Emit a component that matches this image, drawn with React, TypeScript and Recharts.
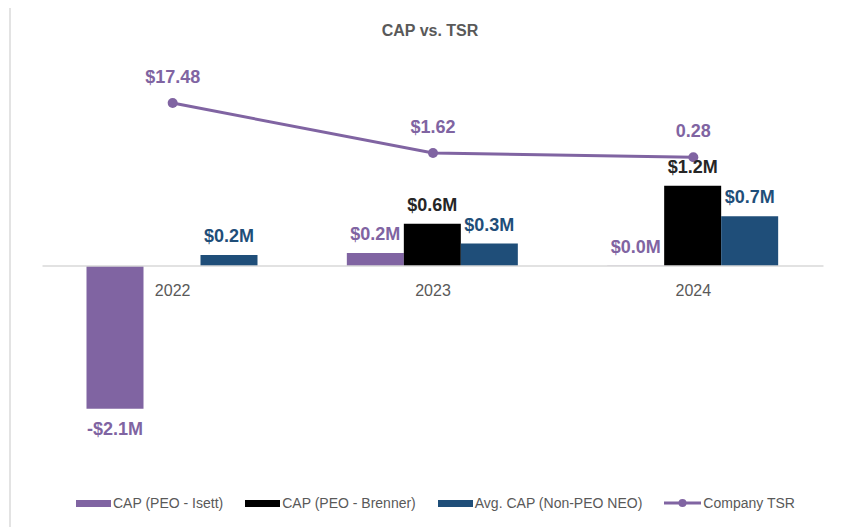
import React from "react";
import {
  ComposedChart,
  Bar,
  Line,
  XAxis,
  YAxis,
  Legend,
  LabelList,
  ReferenceLine,
} from "recharts";

const years = ["2022", "2023", "2024"];
const capIsett = [-2.1, 0.19, 0.004];
const capBrenner = [null, 0.62, 1.18];
const avgCapNonPeo = [0.16, 0.33, 0.73];
const companyTsr = [17.48, 1.62, 0.28];
const tsrLabels = ["$17.48", "$1.62", "0.28"];

const PURPLE = "#8064A2";
const BLACK = "#000000";
const BLUE = "#1F4E79";
const FONT = "'Liberation Sans', Arial, sans-serif";

const data = years.map((year, i) => ({
  year,
  isett: capIsett[i],
  brenner: capBrenner[i],
  nonPeo: avgCapNonPeo[i],
  tsr: companyTsr[i],
  tsrLabel: tsrLabels[i],
  zero: 0,
}));

const money = (v: any) => {
  if (v === null || v === undefined) return "";
  const n = Number(v);
  return (n < 0 ? "-$" : "$") + Math.abs(n).toFixed(1) + "M";
};

const legendItems = [
  { name: "CAP (PEO - Isett)", color: PURPLE, type: "rect" },
  { name: "CAP (PEO - Brenner)", color: BLACK, type: "rect" },
  { name: "Avg. CAP (Non-PEO NEO)", color: BLUE, type: "rect" },
  { name: "Company TSR", color: PURPLE, type: "line" },
];

const LegendContent = () => (
  <div
    style={{
      display: "flex",
      alignItems: "center",
      height: 20,
      paddingLeft: 65,
      fontFamily: FONT,
      fontSize: 14,
      color: "#595959",
      whiteSpace: "nowrap",
    }}
  >
    {legendItems.map((it) => (
      <div key={it.name} style={{ display: "flex", alignItems: "center", marginRight: 22 }}>
        {it.type === "rect" ? (
          <div style={{ width: 35, height: 7, background: it.color, marginRight: 2 }} />
        ) : (
          <svg width={37} height={10} style={{ marginRight: 2 }}>
            <line x1={0} y1={5} x2={37} y2={5} stroke={it.color} strokeWidth={3} />
            <circle cx={18.5} cy={5} r={4} fill={it.color} />
          </svg>
        )}
        <span>{it.name}</span>
      </div>
    ))}
  </div>
);

export default function App() {
  return (
    <div
      style={{
        position: "relative",
        width: 833,
        height: 522,
        marginTop: -3,
        marginLeft: 1,
        borderTop: "2px solid #e3e3e3",
        borderLeft: "2px solid #e3e3e3",
        background: "#fff",
      }}
    >
      <div
        style={{
          position: "absolute",
          left: 419,
          top: 15,
          transform: "translateX(-50%)",
          fontFamily: FONT,
          fontWeight: "bold",
          fontSize: 16,
          color: "#595959",
          whiteSpace: "nowrap",
        }}
      >
        CAP vs. TSR
      </div>
      <ComposedChart
        width={830}
        height={520}
        data={data}
        barGap={0}
        barCategoryGap={44}
        margin={{ top: 63, right: 17.5, bottom: 14, left: 31.5 }}
      >
        <XAxis dataKey="year" hide />
        <YAxis yAxisId="left" hide domain={[-3.338, 2.882]} />
        <YAxis yAxisId="right" orientation="right" hide domain={[-106.3, 27.97]} />
        <ReferenceLine yAxisId="left" y={0} stroke="#d9d9d9" strokeWidth={1.5} />
        <Bar yAxisId="left" dataKey="isett" name="CAP (PEO - Isett)" fill={PURPLE} isAnimationActive={false}>
          <LabelList
            dataKey="isett"
            position="top"
            offset={13}
            formatter={money}
            fill={PURPLE}
            fontSize={18}
            fontWeight="bold"
            fontFamily={FONT}
          />
        </Bar>
        <Bar yAxisId="left" dataKey="brenner" name="CAP (PEO - Brenner)" fill={BLACK} isAnimationActive={false}>
          <LabelList
            dataKey="brenner"
            position="top"
            offset={13}
            formatter={money}
            fill="#262626"
            fontSize={18}
            fontWeight="bold"
            fontFamily={FONT}
          />
        </Bar>
        <Bar yAxisId="left" dataKey="nonPeo" name="Avg. CAP (Non-PEO NEO)" fill={BLUE} isAnimationActive={false}>
          <LabelList
            dataKey="nonPeo"
            position="top"
            offset={13}
            formatter={money}
            fill={BLUE}
            fontSize={18}
            fontWeight="bold"
            fontFamily={FONT}
          />
        </Bar>
        <Line
          yAxisId="left"
          dataKey="zero"
          stroke="none"
          dot={false}
          activeDot={false}
          legendType="none"
          isAnimationActive={false}
        >
          <LabelList dataKey="year" position="bottom" offset={19} fill="#595959" fontSize={16} fontFamily={FONT} />
        </Line>
        <Line
          yAxisId="right"
          dataKey="tsr"
          name="Company TSR"
          stroke={PURPLE}
          strokeWidth={3}
          dot={{ r: 5, fill: PURPLE, stroke: PURPLE, strokeWidth: 0 }}
          activeDot={false}
          isAnimationActive={false}
        >
          <LabelList
            dataKey="tsrLabel"
            position="top"
            offset={20}
            fill={PURPLE}
            fontSize={18}
            fontWeight="bold"
            fontFamily={FONT}
          />
        </Line>
        <Legend
          verticalAlign="bottom"
          width={830}
          wrapperStyle={{ left: 0 }}
          content={() => <LegendContent />}
        />
      </ComposedChart>
    </div>
  );
}
